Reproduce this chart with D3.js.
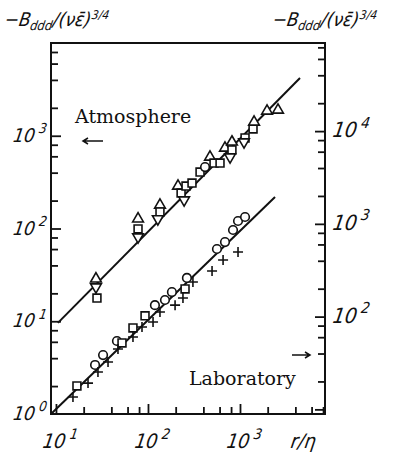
<!DOCTYPE html>
<html>
<head>
<meta charset="utf-8">
<script src="https://cdn.jsdelivr.net/npm/d3@7"></script>
<style>
  body { margin: 0; background: #fff; }
  .num { font-family: "DejaVu Sans Condensed", "DejaVu Sans", sans-serif; font-style: italic; fill: #111; }
  .serif { font-family: "DejaVu Serif", "Liberation Serif", serif; fill: #111; }
</style>
</head>
<body>
<svg id="chart"></svg>
<script>
// atmosphere points, left axis units
const atmR   = [27.2, 27.2, 27.9, 78, 78, 78, 135, 135, 128, 212, 229, 247, 259, 301, 368, 417, 472, 522, 607, 687, 818, 818, 780, 1135, 1106, 1387, 1422, 1968, 2590];
const atmB   = [28.6, 23.4, 17.8, 127, 98.8, 81, 179, 151, 127, 287, 241, 203, 287, 309, 406, 460, 590, 508, 508, 738, 857, 702, 590, 946, 857, 1183, 1407, 1849, 1895];
const atmSym = ["up", "down", "sq", "up", "sq", "down", "up", "sq", "down", "up", "sq", "down", "sq", "sq", "sq", "ci", "up", "sq", "sq", "up", "up", "sq", "down", "sq", "down", "sq", "up", "up", "up"];

// laboratory points, right axis units
const labR   = [15.3, 16.9, 22.3, 26.6, 28.6, 32.5, 36.8, 46.0, 52.2, 47.2, 68.7, 68.7, 92.9, 86.1, 113.5, 119, 135, 153, 197, 182, 240, 253, 308, 265, 497, 562, 687, 840, 952, 1135, 655, 952];
const labB   = [13.6, 17.9, 19.2, 30.1, 25.3, 38.5, 32.4, 54.6, 52.0, 44.8, 75.4, 60.3, 102, 77.3, 87.5, 133, 112, 151, 133, 184, 159, 199, 236, 261, 310, 536, 637, 859, 1074, 1186, 408, 497];
const labSym = ["pl", "sq", "pl", "ci", "pl", "ci", "pl", "ci", "sq", "pl", "sq", "pl", "sq", "pl", "pl", "ci", "pl", "ci", "pl", "ci", "pl", "sq", "pl", "ci", "pl", "ci", "ci", "ci", "ci", "ci", "pl", "pl"];

// fitted lines (end points)
const atmLineR = [10.5, 4490];
const atmLineB = [9.6, 4195];
const labLineR = [8.83, 2404];
const labLineB = [8.9, 1950];

const xLabels = [1, 2, 3];
const leftLabels = [0, 1, 2, 3];
const rightLabels = [2, 3, 4];

const W = 405, H = 452;
const frame = { left: 51, right: 325, top: 43, bottom: 414 };

const svg = d3.select("#chart").attr("width", W).attr("height", H);

const x = d3.scaleLog().domain([Math.pow(10, 0.946), Math.pow(10, 3.924)]).range([frame.left, frame.right]);
const yL = d3.scaleLog().domain([1, 1e4]).range([frame.bottom, frame.top]);
const yR = d3.scaleLog().domain([Math.pow(10, 0.95), Math.pow(10, 4.95)]).range([frame.bottom, frame.top]);

function logTicks(scale, mult) {
    const [a, b] = scale.domain();
    const out = [];
    for (let e = -1; e <= 6; e++) {
        mult.forEach(m => {
            const v = m * Math.pow(10, e);
            if (v >= a * 1.001 && v <= b * 0.999) out.push(v);
        });
    }
    return out;
}

function drawAxis(axisFn, scale, tr) {
    const minor = logTicks(scale, [2, 4, 6, 8]);
    const major = logTicks(scale, [1]);
    [[minor, -7], [major, -10]].forEach(([vals, len]) => {
        const g = svg.append("g")
            .attr("transform", tr)
            .call(axisFn(scale).tickValues(vals).tickSize(len).tickFormat(""));
        g.select(".domain").remove();
        g.selectAll(".tick line").attr("stroke", "#111").attr("stroke-width", 1.8);
    });
}

drawAxis(d3.axisBottom, x, `translate(0,${frame.bottom})`);
drawAxis(d3.axisLeft, yL, `translate(${frame.left},0)`);
drawAxis(d3.axisRight, yR, `translate(${frame.right},0)`);

// frame
svg.append("rect")
    .attr("x", frame.left).attr("y", frame.top)
    .attr("width", frame.right - frame.left).attr("height", frame.bottom - frame.top)
    .attr("fill", "none").attr("stroke", "#111").attr("stroke-width", 2);

// slanted hand-lettered style text
function slanted(px, py, size) {
    return svg.append("text").attr("class", "num")
        .attr("transform", `translate(${px},${py}) skewX(-9)`)
        .attr("font-size", size);
}

// power-of-ten labels
function powLabel(px, py, k, anchor, size) {
    const t = slanted(px, py, size).attr("text-anchor", anchor);
    t.append("tspan").text("10");
    t.append("tspan").attr("dy", -size * 0.45).attr("dx", 3).attr("font-size", size * 0.72).text(k);
}

xLabels.forEach(k => powLabel(x(Math.pow(10, k)) + 3, 448, k, "middle", 20));
leftLabels.forEach(k => powLabel(45, yL(Math.pow(10, k)) + 6, k, "end", 19));
rightLabels.forEach(k => powLabel(332, yR(Math.pow(10, k)) + 6, k, "start", 21));

slanted(290, 448, 20).text("r/η");

// axis titles
function titleLabel(px) {
    const t = slanted(px, 26, 19);
    t.append("tspan").text("−B");
    t.append("tspan").attr("dy", 4).attr("font-size", 13).text("ddd");
    t.append("tspan").attr("dy", -4).text("/(νε̄)");
    t.append("tspan").attr("dy", -7).attr("font-size", 12).text("3/4");
}
titleLabel(4);
titleLabel(272);

// fitted lines
const lineL = d3.line().x(d => x(d[0])).y(d => yL(d[1]));
const lineR = d3.line().x(d => x(d[0])).y(d => yR(d[1]));

svg.append("path")
    .attr("d", lineL(atmLineR.map((r, i) => [r, atmLineB[i]])))
    .attr("stroke", "#111").attr("stroke-width", 2).attr("fill", "none");
svg.append("path")
    .attr("d", lineR(labLineR.map((r, i) => [r, labLineB[i]])))
    .attr("stroke", "#111").attr("stroke-width", 2).attr("fill", "none");

// markers
const symbolPath = {
    up: d3.symbol(d3.symbolTriangle, 50)(),
    down: d3.symbol(d3.symbolTriangle, 50)(),
    sq: d3.symbol(d3.symbolSquare, 62)(),
    ci: d3.symbol(d3.symbolCircle, 58)(),
    pl: "M-5,0H5M0,-5V5"
};

function drawPoints(rs, bs, syms, yScale) {
    const pts = rs.map((r, i) => ({ r: r, b: bs[i], s: syms[i] }));
    svg.append("g").selectAll("path")
        .data(pts)
        .join("path")
        .attr("d", d => symbolPath[d.s])
        .attr("transform", d => `translate(${x(d.r)},${yScale(d.b)})` + (d.s === "down" ? " rotate(180)" : ""))
        .attr("fill", d => d.s === "pl" ? "none" : "#fff")
        .attr("stroke", "#111")
        .attr("stroke-width", 1.6);
}

drawPoints(atmR, atmB, atmSym, yL);
drawPoints(labR, labB, labSym, yR);

// annotations
svg.append("text").attr("class", "serif")
    .attr("x", 75).attr("y", 123).attr("font-size", 19)
    .text("Atmosphere");
svg.append("text").attr("class", "serif")
    .attr("x", 189).attr("y", 385).attr("font-size", 19)
    .text("Laboratory");

function arrow(x1, x2, y) {
    const dir = Math.sign(x2 - x1);
    svg.append("path")
        .attr("d", `M${x1},${y}H${x2}M${x2 - dir * 5},${y - 3}L${x2},${y}L${x2 - dir * 5},${y + 3}`)
        .attr("stroke", "#111").attr("stroke-width", 1.5).attr("fill", "none");
}
arrow(103, 83, 141);
arrow(292, 310, 355);
</script>
</body>
</html>
